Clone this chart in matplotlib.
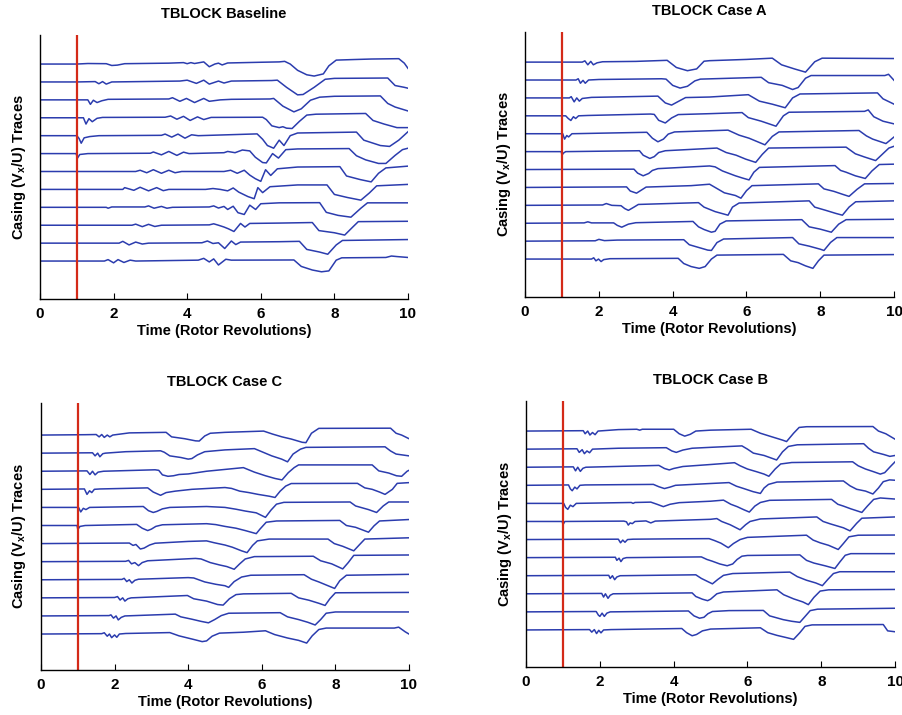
import matplotlib
matplotlib.use("Agg")
import matplotlib.pyplot as plt

plt.rcParams['font.family'] = ['Liberation Sans', 'DejaVu Sans']
plt.rcParams['mathtext.fontset'] = 'custom'
plt.rcParams['mathtext.rm'] = 'Liberation Sans:bold'
plt.rcParams['mathtext.bf'] = 'Liberation Sans:bold'
plt.rcParams['mathtext.it'] = 'Liberation Sans:bold'

# ---------------- data: (time [rev], deviation [trace spacings]) per trace, top to bottom
BASELINE = [
    [(0,0),(1,0),(1.3,0.03),(1.8,0.02),(1.95,-0.08),(2.1,-0.06),(2.3,0.02),(3.5,0.05),(3.9,0.08),(4.0,0.02),(4.1,0.08),(4.2,0.03),(4.45,0.12),(4.6,-0.15),(4.75,0),(4.85,0.05),(4.95,-0.05),(5.1,0.06),(6.0,0.1),(6.5,0.12),(6.65,0.15),(6.8,0),(7.0,-0.35),(7.25,-0.6),(7.45,-0.67),(7.7,-0.55),(7.85,-0.1),(8.05,0.22),(8.5,0.25),(9.0,0.28),(9.75,0.3),(9.9,0.05),(10,-0.24)],
    [(0,0),(1,0),(1.5,0.02),(1.6,-0.1),(1.7,0.02),(1.8,-0.12),(1.95,0.0),(3.8,0.05),(4.0,0.1),(4.25,-0.08),(4.45,0.1),(4.6,-0.12),(4.85,0.05),(5.0,-0.06),(5.2,0.05),(6.3,0.08),(6.45,0.1),(6.7,-0.3),(7.0,-0.72),(7.15,-0.7),(7.45,-0.3),(7.75,0.15),(8.0,0.2),(9.45,0.22),(9.65,-0.2),(9.9,-0.3),(10,-0.35)],
    [(0,0),(1.0,0),(1.3,0),(1.37,-0.25),(1.45,-0.02),(1.55,-0.15),(1.68,-0.05),(1.85,0.03),(3.5,0.05),(3.6,0.12),(3.8,-0.08),(3.98,0.08),(4.2,-0.15),(4.45,0.08),(4.6,-0.08),(4.9,0.0),(5.2,0.03),(6.25,0.05),(6.35,0.08),(6.6,-0.35),(6.9,-0.67),(7.1,-0.5),(7.35,-0.02),(7.6,0.15),(8.0,0.2),(9.25,0.22),(9.45,-0.2),(9.65,-0.4),(10,-0.62)],
    [(0,0),(1.0,0),(1.18,0),(1.25,-0.35),(1.33,-0.05),(1.42,-0.22),(1.55,-0.03),(1.7,0.02),(3.4,0.03),(3.55,0.1),(3.72,-0.08),(3.9,0.08),(4.08,-0.15),(4.28,0.05),(4.45,-0.1),(4.65,0.02),(6.05,0.03),(6.15,-0.1),(6.3,-0.45),(6.5,-0.55),(6.6,-0.5),(6.7,-0.58),(6.85,-0.6),(7.05,-0.2),(7.25,0.15),(7.5,0.2),(8.85,0.24),(9.05,-0.15),(9.35,-0.35),(9.7,-0.55),(10,-0.55)],
    [(0,0),(1.0,0),(1.06,-0.15),(1.12,-0.42),(1.2,-0.12),(1.35,-0.05),(1.6,0),(3.3,0.02),(3.4,0.09),(3.58,-0.08),(3.75,0.09),(3.94,-0.14),(4.12,0.05),(4.3,0.0),(5.9,0.1),(6.05,-0.2),(6.18,-0.55),(6.35,-0.7),(6.5,-0.25),(6.63,-0.55),(6.8,0.0),(7.0,0.15),(8.6,0.2),(8.8,-0.25),(9.25,-0.55),(9.5,-0.6),(9.75,-0.25),(10,0.22)],
    [(0,0),(0.98,0),(1.02,-0.25),(1.08,-0.05),(1.3,0),(3.0,0.02),(3.08,0.09),(3.3,-0.07),(3.5,0.12),(3.72,-0.1),(3.9,0.08),(4.05,0),(5.0,0.05),(5.1,0.12),(5.3,0.05),(5.5,0.2),(5.7,0.15),(5.85,-0.2),(6.05,-0.5),(6.15,-0.52),(6.32,0.0),(6.48,-0.25),(6.68,0.22),(7.0,0.26),(8.4,0.28),(8.6,-0.12),(8.85,-0.35),(9.2,-0.55),(9.4,-0.55),(9.65,-0.1),(9.85,0.22),(10,0.3)],
    [(0,0),(2.6,0.0),(2.72,0.07),(2.9,-0.07),(3.08,0.1),(3.3,-0.1),(3.5,0.07),(3.67,-0.07),(3.85,0.0),(5.0,0.0),(5.18,0.07),(5.36,-0.1),(5.55,0.07),(5.7,-0.2),(5.85,-0.4),(6.0,-0.55),(6.13,0.1),(6.27,-0.22),(6.45,0.15),(7.0,0.25),(8.15,0.27),(8.33,-0.25),(8.7,-0.45),(9.0,-0.58),(9.2,-0.1),(9.4,0.2),(10,0.3)],
    [(0,0),(2.25,0),(2.3,0.1),(2.55,-0.05),(2.72,0.12),(2.95,-0.08),(3.17,0.1),(3.35,-0.07),(3.5,0),(4.5,0.0),(4.7,0.05),(4.9,0.0),(5.1,-0.08),(5.25,0.08),(5.4,-0.15),(5.65,-0.4),(5.82,-0.52),(5.92,0.1),(6.05,-0.18),(6.25,0.15),(7.0,0.25),(7.8,0.25),(8.0,-0.28),(8.35,-0.45),(8.72,-0.6),(8.95,-0.2),(9.15,0.2),(10,0.28)],
    [(0,0),(1.8,0),(1.85,-0.05),(1.95,0.02),(2.85,0.02),(2.95,0.08),(3.1,-0.05),(3.3,0.05),(3.45,-0.05),(3.6,0.0),(4.6,0.02),(4.72,0.08),(4.85,-0.04),(5.0,0.05),(5.1,-0.12),(5.25,0.06),(5.38,-0.3),(5.55,-0.4),(5.7,0.12),(5.86,-0.12),(6.0,0.2),(6.5,0.25),(7.6,0.26),(7.78,-0.28),(8.1,-0.45),(8.45,-0.55),(8.72,-0.05),(8.9,0.25),(10,0.25)],
    [(0,0),(2.5,0),(2.6,0.06),(2.78,-0.08),(2.95,0.05),(3.12,-0.07),(3.3,0.0),(4.6,0.02),(4.72,0.08),(4.85,0.0),(5.0,-0.1),(5.12,-0.2),(5.27,-0.35),(5.45,0.1),(5.57,-0.1),(5.7,0.1),(6.5,0.12),(7.4,0.15),(7.58,-0.3),(8.0,-0.42),(8.28,-0.55),(8.5,-0.1),(8.65,0.2),(10,0.22)],
    [(0,0),(2.15,0),(2.25,0.1),(2.42,-0.1),(2.6,0.06),(2.78,-0.05),(2.95,0.0),(4.4,0.02),(4.55,0.12),(4.7,-0.02),(4.85,0.02),(5.02,-0.3),(5.2,0.12),(5.32,-0.08),(5.45,0.06),(6.5,0.08),(7.05,0.1),(7.25,-0.35),(7.6,-0.5),(7.82,-0.62),(8.05,-0.1),(8.22,0.15),(10,0.2)],
    [(0,0),(1.75,0),(1.85,0.08),(2.0,-0.1),(2.12,0.08),(2.28,-0.08),(2.45,0.05),(2.6,0.0),(4.3,0.05),(4.45,0.15),(4.6,-0.05),(4.72,0.12),(4.85,-0.22),(5.05,0.1),(5.2,0.05),(6.9,0.06),(7.1,-0.3),(7.4,-0.5),(7.65,-0.6),(7.85,-0.55),(8.05,0.05),(8.2,0.18),(9.4,0.2),(9.55,0.28),(9.7,0.25),(10,0.2)],
]

CASE_A = [
    [(0,0),(1.55,0),(1.62,0.07),(1.7,-0.15),(1.78,0.04),(1.85,-0.15),(1.95,-0.04),(2.1,0.02),(3.0,0.04),(3.85,0.1),(4.1,-0.3),(4.4,-0.48),(4.65,-0.38),(4.85,0.05),(5.0,0.08),(6.0,0.15),(6.7,0.22),(6.95,-0.15),(7.3,-0.38),(7.6,-0.56),(7.85,0.02),(8.05,0.22),(10,0.2)],
    [(0,0),(1.38,0),(1.44,0.07),(1.5,-0.18),(1.57,-0.02),(1.63,-0.18),(1.72,0.0),(2.0,0.03),(3.7,0.07),(3.82,0.05),(4.0,-0.3),(4.2,-0.45),(4.4,-0.35),(4.6,-0.05),(4.75,0.05),(6.4,0.15),(6.6,-0.15),(6.97,-0.3),(7.25,-0.53),(7.4,-0.42),(7.6,0.1),(7.75,0.25),(9.75,0.25),(9.85,0.32),(10,-0.02)],
    [(0,0),(1.2,0),(1.25,0.07),(1.33,-0.22),(1.4,0.0),(1.47,-0.18),(1.55,-0.03),(1.8,0.03),(3.6,0.1),(3.8,-0.28),(3.97,-0.4),(4.15,-0.2),(4.35,0.02),(5.0,0.05),(6.05,0.18),(6.35,-0.18),(6.7,-0.35),(7.05,-0.55),(7.25,0.0),(7.45,0.22),(9.55,0.28),(9.7,-0.05),(10,-0.35)],
    [(0,0),(1.1,0),(1.17,-0.15),(1.24,-0.26),(1.31,-0.05),(1.37,-0.15),(1.45,0.0),(1.7,0.02),(3.4,0.1),(3.5,0.08),(3.62,-0.25),(3.8,-0.4),(3.97,-0.12),(4.15,0.07),(5.0,0.12),(5.88,0.18),(6.05,-0.1),(6.4,-0.3),(6.8,-0.58),(7.0,0.0),(7.15,0.2),(9.2,0.25),(9.3,0.33),(9.45,-0.05),(9.7,-0.3),(10,-0.45)],
    [(0,0),(1.02,0),(1.07,-0.3),(1.13,-0.1),(1.18,-0.18),(1.27,0.0),(3.3,0.08),(3.45,-0.25),(3.6,-0.45),(3.75,-0.3),(3.88,-0.02),(4.05,0.1),(5.5,0.2),(5.8,-0.08),(6.07,-0.25),(6.5,-0.62),(6.7,-0.15),(6.88,0.1),(9.05,0.18),(9.25,-0.12),(9.42,-0.3),(9.78,-0.55),(9.9,-0.35),(10,-0.18)],
    [(0,0),(0.98,0),(1.0,-0.2),(1.04,-0.08),(1.1,0.0),(3.1,0.05),(3.2,-0.2),(3.38,-0.38),(3.5,-0.28),(3.62,-0.05),(3.8,0.05),(5.2,0.2),(5.45,-0.05),(5.72,-0.2),(5.98,-0.42),(6.25,-0.6),(6.43,-0.15),(6.6,0.2),(8.7,0.25),(8.95,-0.12),(9.2,-0.3),(9.5,-0.5),(9.68,-0.15),(9.86,0.2),(10,0.3)],
    [(0,0),(2.95,0.02),(3.05,-0.2),(3.2,-0.35),(3.35,-0.22),(3.45,-0.05),(3.6,0.05),(5.0,0.2),(5.15,0.15),(5.35,-0.08),(5.7,-0.35),(5.9,-0.48),(6.07,-0.58),(6.2,-0.15),(6.35,0.12),(8.4,0.22),(8.55,-0.05),(8.7,-0.15),(8.95,-0.35),(9.22,-0.5),(9.4,-0.08),(9.6,0.28),(10,0.3)],
    [(0,0),(2.75,0.03),(2.85,-0.2),(3.02,-0.32),(3.15,-0.15),(3.28,0.02),(4.5,0.1),(5.0,0.18),(5.15,0.0),(5.4,-0.3),(5.7,-0.45),(5.85,-0.6),(6.0,-0.18),(6.15,0.1),(7.95,0.2),(8.1,-0.08),(8.37,-0.22),(8.6,-0.38),(8.78,-0.5),(9.0,-0.1),(9.2,0.2),(10,0.22)],
    [(0,0),(2.1,0.02),(2.2,0.1),(2.35,0.0),(2.6,-0.02),(2.7,-0.18),(2.8,-0.28),(2.95,-0.1),(3.07,0.05),(4.7,0.15),(4.85,-0.1),(5.15,-0.35),(5.5,-0.55),(5.62,-0.1),(5.8,0.13),(7.7,0.25),(7.85,-0.1),(8.15,-0.28),(8.42,-0.45),(8.6,-0.55),(8.78,-0.1),(8.96,0.2),(10,0.25)],
    [(0,0),(1.6,0.02),(1.7,0.08),(1.8,0.02),(2.4,0.02),(2.5,-0.12),(2.62,-0.22),(2.8,-0.05),(3.0,0.03),(4.55,0.1),(4.7,-0.2),(4.85,-0.35),(5.05,-0.5),(5.15,-0.45),(5.28,-0.05),(5.45,0.13),(7.5,0.2),(7.7,-0.2),(8.0,-0.33),(8.3,-0.5),(8.5,-0.05),(8.7,0.2),(10,0.22)],
    [(0,0),(1.9,0.02),(2.0,0.1),(2.15,0.03),(2.5,0.06),(4.3,0.08),(4.45,-0.2),(4.7,-0.35),(4.95,-0.5),(5.05,-0.52),(5.2,-0.08),(5.38,0.12),(7.25,0.2),(7.42,-0.15),(7.7,-0.28),(8.0,-0.45),(8.1,-0.52),(8.28,-0.07),(8.45,0.2),(10,0.2)],
    [(0,0),(1.8,0),(1.86,0.07),(1.92,-0.1),(1.99,0.0),(2.06,-0.14),(2.13,-0.03),(2.3,0.02),(4.15,0.04),(4.3,-0.25),(4.5,-0.42),(4.72,-0.52),(4.88,-0.42),(5.05,0.0),(5.2,0.22),(7.0,0.26),(7.2,-0.1),(7.4,-0.2),(7.6,-0.38),(7.8,-0.52),(7.95,-0.1),(8.1,0.22),(10,0.25)],
]

CASE_C = [
    [(0,0),(1.2,0.02),(1.5,0.03),(1.58,-0.1),(1.65,0.03),(1.72,-0.13),(1.8,0.0),(1.87,-0.1),(1.95,0.0),(2.4,0.12),(3.4,0.15),(3.55,-0.1),(3.9,-0.2),(4.2,-0.32),(4.3,-0.33),(4.45,-0.05),(4.6,0.1),(5.0,0.15),(6.05,0.22),(6.3,0.05),(6.55,-0.1),(6.8,-0.22),(7.1,-0.4),(7.2,-0.42),(7.35,0.1),(7.55,0.37),(9.5,0.38),(9.65,0.1),(9.8,0.0),(10,-0.2)],
    [(0,0),(1.4,0.02),(1.47,-0.15),(1.54,0.0),(1.6,-0.2),(1.68,-0.03),(1.75,0.0),(2.3,0.08),(3.25,0.13),(3.35,0.05),(3.5,-0.15),(3.8,-0.24),(4.0,-0.33),(4.1,-0.3),(4.25,-0.1),(4.45,0.08),(5.0,0.18),(5.8,0.25),(6.0,0.08),(6.27,-0.15),(6.54,-0.33),(6.7,-0.48),(6.85,-0.05),(7.05,0.22),(7.2,0.32),(9.35,0.35),(9.5,0.12),(9.65,-0.05),(10,-0.15)],
    [(0,0),(1.25,0.02),(1.33,-0.18),(1.4,0.0),(1.47,-0.2),(1.55,-0.05),(1.7,0.0),(3.1,0.08),(3.2,0.05),(3.3,-0.2),(3.45,-0.28),(3.6,-0.25),(3.75,-0.18),(4.0,-0.15),(4.5,0.0),(5.0,0.1),(5.5,0.2),(5.8,-0.05),(6.1,-0.25),(6.36,-0.4),(6.55,-0.48),(6.72,-0.08),(6.88,0.2),(7.0,0.35),(9.0,0.35),(9.18,0.02),(9.45,-0.1),(9.66,-0.25),(9.8,-0.28),(9.95,0.0),(10,0.05)],
    [(0,0),(1.18,0.02),(1.25,-0.28),(1.32,-0.08),(1.38,-0.18),(1.45,0.0),(1.6,0.02),(2.9,0.08),(3.05,-0.15),(3.25,-0.33),(3.4,-0.18),(3.65,-0.1),(4.1,0.0),(5.0,0.1),(5.18,0.05),(5.4,-0.1),(5.65,-0.18),(5.9,-0.28),(6.2,-0.38),(6.36,-0.45),(6.5,-0.1),(6.65,0.18),(6.8,0.32),(8.6,0.33),(8.8,0.08),(9.0,0.0),(9.2,-0.15),(9.35,-0.28),(9.55,0.0),(9.68,0.33),(10,0.37)],
    [(0,0),(1.02,0),(1.08,-0.25),(1.15,-0.05),(1.22,-0.12),(1.32,0.0),(2.78,0.05),(2.92,-0.18),(3.05,-0.28),(3.15,-0.22),(3.3,-0.08),(3.5,0.0),(4.5,0.05),(5.0,0.0),(5.3,-0.1),(5.55,-0.2),(5.85,-0.3),(6.1,-0.55),(6.25,-0.15),(6.4,0.18),(6.6,0.28),(8.4,0.3),(8.55,0.08),(8.9,-0.12),(9.12,-0.28),(9.3,0.08),(9.45,0.3),(10,0.3)],
    [(0,0),(0.98,0),(1.0,-0.22),(1.06,-0.05),(1.2,0.0),(2.6,0.06),(2.75,-0.15),(2.9,-0.28),(3.0,-0.2),(3.12,-0.05),(3.3,0.04),(4.5,0.1),(4.75,0.05),(5.0,-0.05),(5.3,-0.15),(5.55,-0.28),(5.85,-0.45),(5.95,-0.2),(6.12,0.18),(6.4,0.25),(8.12,0.28),(8.3,0.0),(8.55,-0.1),(8.9,-0.37),(9.05,-0.02),(9.2,0.25),(10,0.33)],
    [(0,0),(2.4,0.03),(2.5,-0.1),(2.58,-0.05),(2.7,-0.3),(2.8,-0.25),(2.95,-0.08),(3.1,0.02),(4.0,0.12),(4.5,0.15),(4.7,0.05),(5.0,-0.08),(5.2,-0.2),(5.45,-0.4),(5.6,-0.5),(5.75,-0.1),(5.88,0.15),(6.2,0.25),(7.8,0.25),(7.97,0.0),(8.2,-0.15),(8.5,-0.4),(8.66,-0.05),(8.8,0.25),(10,0.32)],
    [(0,0),(2.3,0.02),(2.38,0.07),(2.46,-0.12),(2.55,-0.05),(2.65,-0.22),(2.75,-0.05),(2.9,0.05),(4.2,0.18),(4.35,0.15),(4.6,-0.05),(4.85,-0.18),(5.05,-0.27),(5.25,-0.42),(5.4,-0.12),(5.55,0.15),(5.8,0.28),(7.4,0.3),(7.6,0.05),(7.9,-0.12),(8.2,-0.4),(8.35,-0.05),(8.5,0.35),(10,0.37)],
    [(0,0),(2.2,0.02),(2.26,0.08),(2.33,-0.1),(2.4,0.0),(2.47,-0.18),(2.55,-0.03),(2.65,0.03),(4.0,0.12),(4.15,0.1),(4.45,-0.12),(4.75,-0.25),(5.0,-0.33),(5.1,-0.42),(5.25,-0.1),(5.45,0.15),(5.7,0.25),(7.15,0.28),(7.35,0.03),(7.55,-0.12),(7.8,-0.33),(7.98,-0.48),(8.12,-0.05),(8.3,0.25),(10,0.3)],
    [(0,0),(2.0,0.02),(2.08,0.07),(2.15,-0.12),(2.22,0.0),(2.28,-0.18),(2.36,-0.05),(2.45,0.0),(3.98,0.13),(4.15,-0.05),(4.5,-0.18),(4.8,-0.37),(4.95,-0.4),(5.12,-0.05),(5.3,0.18),(5.5,0.22),(6.8,0.25),(7.0,0.0),(7.28,-0.13),(7.55,-0.3),(7.72,-0.42),(7.85,-0.05),(8.0,0.28),(10,0.3)],
    [(0,0),(1.85,0.02),(1.9,0.06),(1.97,-0.12),(2.04,0.0),(2.1,-0.22),(2.18,-0.08),(2.28,0.0),(3.65,0.1),(3.8,-0.05),(4.1,-0.18),(4.35,-0.3),(4.55,-0.38),(4.72,-0.2),(4.9,0.02),(5.1,0.15),(6.5,0.18),(6.7,-0.05),(7.0,-0.2),(7.25,-0.35),(7.45,-0.5),(7.6,-0.2),(7.75,0.15),(8.0,0.22),(10,0.22)],
    [(0,0),(1.65,0.02),(1.72,0.07),(1.8,-0.12),(1.86,0.0),(1.92,-0.2),(2.0,-0.05),(2.06,-0.18),(2.13,0.0),(2.3,0.03),(3.5,0.08),(3.75,-0.1),(4.15,-0.3),(4.38,-0.42),(4.5,-0.38),(4.65,-0.12),(4.85,0.05),(5.5,0.1),(6.1,0.18),(6.35,-0.03),(6.7,-0.22),(7.0,-0.35),(7.22,-0.5),(7.37,-0.1),(7.55,0.25),(7.75,0.33),(9.6,0.33),(9.72,0.38),(9.9,0.12),(10,0.0)],
]

CASE_B = [
    [(0,0),(1.55,0.02),(1.6,-0.15),(1.67,0.0),(1.73,-0.22),(1.8,-0.08),(1.87,-0.2),(1.95,0.0),(2.5,0.08),(3.0,0.1),(3.08,0.05),(3.15,0.1),(4.0,0.1),(4.15,-0.15),(4.3,-0.28),(4.45,-0.18),(4.6,0.0),(5.0,0.05),(6.1,0.1),(6.35,-0.12),(6.6,-0.28),(6.95,-0.5),(7.06,-0.58),(7.25,-0.12),(7.4,0.2),(7.6,0.24),(9.4,0.25),(9.55,0.0),(9.75,-0.15),(10,-0.45)],
    [(0,0),(1.38,0.02),(1.44,-0.18),(1.52,-0.03),(1.58,-0.25),(1.65,-0.1),(1.72,-0.2),(1.8,0.0),(2.5,0.05),(3.8,0.08),(3.95,-0.1),(4.07,-0.18),(4.25,-0.05),(4.5,0.05),(5.0,0.1),(5.85,0.18),(6.0,0.0),(6.16,-0.22),(6.45,-0.35),(6.79,-0.6),(6.95,-0.15),(7.11,0.15),(7.35,0.24),(9.15,0.3),(9.28,0.05),(9.42,-0.15),(9.7,-0.3),(9.86,-0.4),(10,-0.35)],
    [(0,0),(1.28,0.02),(1.34,-0.2),(1.4,0.0),(1.47,-0.23),(1.54,-0.06),(1.62,0.0),(3.6,0.1),(3.75,-0.07),(3.88,-0.15),(4.0,-0.07),(4.25,0.04),(5.0,0.15),(5.65,0.25),(5.8,0.08),(6.0,-0.1),(6.25,-0.25),(6.45,-0.38),(6.58,-0.5),(6.75,-0.1),(6.9,0.18),(7.2,0.26),(8.85,0.3),(9.0,0.08),(9.2,-0.1),(9.42,-0.25),(9.6,-0.38),(9.72,-0.3),(9.88,0.05),(10,0.3)],
    [(0,0),(1.15,0.02),(1.2,-0.2),(1.25,-0.3),(1.32,-0.1),(1.38,-0.2),(1.46,0.0),(1.6,0.02),(3.45,0.05),(3.6,-0.08),(3.75,-0.18),(3.9,-0.1),(4.05,0.0),(5.0,0.1),(5.5,0.15),(5.7,-0.05),(5.9,-0.18),(6.15,-0.35),(6.35,-0.45),(6.45,-0.15),(6.57,0.05),(6.8,0.18),(8.6,0.24),(8.78,-0.03),(8.96,-0.22),(9.2,-0.32),(9.4,-0.48),(9.55,-0.15),(9.68,0.2),(9.85,0.3),(10,0.28)],
    [(0,0),(1.02,0),(1.07,-0.22),(1.13,-0.33),(1.2,-0.1),(1.27,-0.18),(1.36,0.0),(2.85,0.05),(2.9,0.0),(2.95,0.05),(3.38,0.07),(3.55,-0.05),(3.72,-0.18),(3.9,-0.05),(4.15,0.04),(5.0,0.12),(5.35,0.18),(5.55,-0.05),(5.72,-0.18),(5.9,-0.35),(6.05,-0.48),(6.2,-0.15),(6.35,0.05),(6.6,0.17),(8.28,0.22),(8.45,-0.05),(8.6,-0.15),(8.8,-0.3),(9.1,-0.5),(9.25,-0.15),(9.42,0.22),(9.6,0.3),(10,0.24)],
    [(0,0),(0.98,0),(1.0,-0.18),(1.05,0.0),(2.65,0.02),(2.72,-0.02),(2.77,-0.2),(2.82,-0.08),(2.88,-0.12),(2.95,0.0),(3.25,0.03),(3.38,-0.08),(3.5,0.02),(5.0,0.12),(5.17,0.16),(5.3,0.0),(5.53,-0.18),(5.8,-0.46),(5.95,-0.18),(6.07,0.0),(6.35,0.14),(7.88,0.25),(8.05,0.0),(8.24,-0.13),(8.6,-0.35),(8.78,-0.52),(8.96,-0.1),(9.1,0.18),(10,0.25)],
    [(0,0),(2.5,0.02),(2.56,-0.18),(2.62,-0.03),(2.68,-0.15),(2.75,0.0),(2.9,0.02),(4.0,0.04),(4.96,0.05),(5.1,-0.05),(5.28,-0.2),(5.48,-0.45),(5.62,-0.22),(5.8,0.0),(6.0,0.12),(7.6,0.24),(7.78,-0.03),(7.97,-0.18),(8.2,-0.32),(8.46,-0.55),(8.6,-0.22),(8.75,0.15),(9.0,0.24),(10,0.25)],
    [(0,0),(2.42,0.02),(2.46,-0.15),(2.52,-0.03),(2.57,-0.22),(2.63,-0.05),(2.72,0.0),(4.75,0.04),(4.9,-0.1),(5.05,-0.2),(5.25,-0.35),(5.45,-0.45),(5.6,-0.35),(5.72,-0.1),(5.85,0.08),(6.0,0.12),(7.42,0.15),(7.6,-0.15),(7.8,-0.3),(8.1,-0.45),(8.37,-0.6),(8.5,-0.25),(8.65,0.13),(8.8,0.22),(10,0.22)],
    [(0,0),(2.24,0.02),(2.28,-0.15),(2.34,0.0),(2.4,-0.22),(2.46,-0.07),(2.55,0.0),(4.6,0.05),(4.75,-0.15),(4.9,-0.3),(5.05,-0.45),(5.2,-0.2),(5.35,0.02),(5.6,0.12),(7.15,0.2),(7.35,-0.05),(7.6,-0.25),(7.85,-0.4),(8.03,-0.55),(8.18,-0.2),(8.33,0.12),(8.5,0.22),(10,0.22)],
    [(0,0),(2.05,0.02),(2.1,-0.18),(2.15,0.0),(2.22,-0.25),(2.28,-0.08),(2.36,0.0),(4.5,0.05),(4.6,-0.15),(4.78,-0.3),(4.92,-0.38),(5.0,-0.3),(5.17,0.0),(5.35,0.1),(6.8,0.22),(6.98,-0.05),(7.25,-0.28),(7.5,-0.45),(7.65,-0.6),(7.8,-0.2),(7.97,0.15),(8.2,0.22),(10,0.24)],
    [(0,0),(1.9,0.02),(1.96,-0.18),(2.0,-0.25),(2.06,-0.07),(2.12,-0.25),(2.19,-0.07),(2.28,0.0),(4.4,0.05),(4.55,-0.22),(4.7,-0.35),(4.82,-0.3),(4.93,-0.1),(5.05,0.02),(5.5,0.07),(6.43,0.08),(6.6,-0.22),(6.97,-0.43),(7.2,-0.52),(7.42,-0.58),(7.55,-0.28),(7.7,0.07),(7.9,0.15),(10,0.2)],
    [(0,0),(1.72,0.02),(1.78,-0.12),(1.85,0.02),(1.91,-0.2),(1.97,-0.02),(2.03,-0.16),(2.1,0.0),(2.3,0.02),(4.22,0.08),(4.35,-0.15),(4.5,-0.32),(4.62,-0.25),(4.78,-0.05),(5.0,0.05),(6.35,0.12),(6.55,-0.15),(6.8,-0.3),(7.05,-0.42),(7.25,-0.52),(7.42,-0.15),(7.56,0.2),(7.75,0.28),(9.68,0.3),(9.8,-0.05),(10,-0.1)],
]

TITLES = ["TBLOCK Baseline", "TBLOCK Case A", "TBLOCK Case C", "TBLOCK Case B"]
XTICKS = [0, 2, 4, 6, 8, 10]
XLABEL = "Time (Rotor Revolutions)"
YLABEL = r"Casing (V$_\mathbf{x}$/U) Traces"
STALL_ONSET = 1.0

PANELS = [
    (BASELINE, TITLES[0], [0.0443, 0.5818, 0.4075, 0.3692], (-1.12, 13.62)),
    (CASE_A,   TITLES[1], [0.5815, 0.5846, 0.4086, 0.3706], (-1.12, 13.68)),
    (CASE_C,   TITLES[2], [0.0454, 0.0629, 0.4075, 0.3734], (-0.99, 13.77)),
    (CASE_B,   TITLES[3], [0.5826, 0.0671, 0.4086, 0.3720], (-1.05, 13.66)),
]

BLUE = '#2b3cae'
RED = '#d42a18'

fig = plt.figure(figsize=(9.03, 7.15), dpi=100)
for traces, title, rect, ylim in PANELS:
    ax = fig.add_axes(rect)
    n = len(traces)
    for i, tr in enumerate(traces):
        t = [p[0] for p in tr]
        v = [p[1] + (n - i) for p in tr]
        ax.plot(t, v, color=BLUE, lw=1.1, solid_joinstyle='round')
    ax.axvline(STALL_ONSET, color=RED, lw=1.6)
    ax.set_xlim(0, 10)
    ax.set_ylim(*ylim)
    ax.set_xticks(XTICKS)
    ax.set_xticklabels([str(x) for x in XTICKS], fontsize=11, fontweight='bold')
    ax.set_yticks([])
    ax.tick_params(axis='x', direction='in', length=4, width=0.8, pad=6)
    for s in ('top', 'right'):
        ax.spines[s].set_visible(False)
    ax.spines['left'].set_linewidth(1.0)
    ax.spines['bottom'].set_linewidth(1.0)
    ax.set_title(title, fontsize=10.5, fontweight='bold', pad=12)
    ax.set_xlabel(XLABEL, fontsize=10.5, fontweight='bold', labelpad=2)
    ax.set_ylabel(YLABEL, fontsize=10.5, fontweight='bold', labelpad=9)

fig.savefig("out.png", dpi=100)
